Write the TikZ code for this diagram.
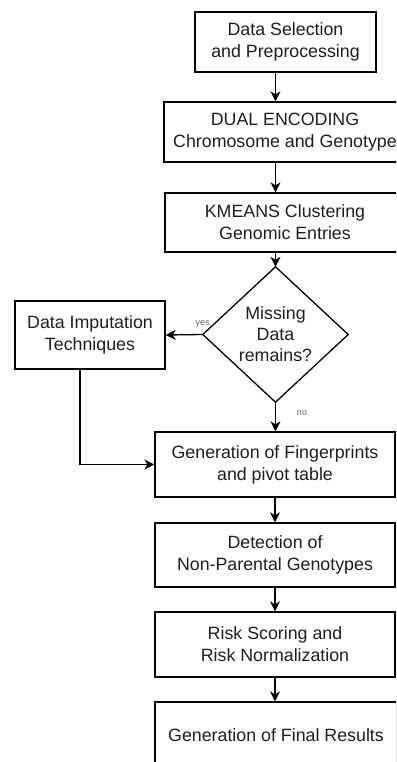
\documentclass[tikz,border=0pt]{standalone}
\usepackage{fontspec}
\setmainfont{Liberation Sans}
\usetikzlibrary{arrows.meta}
\definecolor{txt}{RGB}{30,30,30}
\definecolor{lblc}{RGB}{95,95,95}
\begin{document}
\begin{tikzpicture}[x=1pt,y=-1pt,
  box/.style={draw=black, line width=1.3pt, rectangle, inner sep=0pt, align=center, text=txt, font=\fontsize{17.8}{22}\selectfont},
  arr/.style={draw=black, line width=1.3pt, -{Stealth[length=10pt,width=10pt,inset=3pt]}},
  lbl/.style={font=\fontsize{9}{10}\selectfont, text=lblc, inner sep=0pt}
]
\useasboundingbox (0,0) rectangle (396,762);
\clip (0,0) rectangle (396,762);

\node[box, minimum width=181pt, minimum height=60pt] (b1) at (285.5,42) {Data Selection\\and Preprocessing};
\node[box, minimum width=242pt, minimum height=60pt] (b2) at (285,132) {DUAL ENCODING\\Chromosome and Genotype};
\node[box, minimum width=240pt, minimum height=59pt] (b3) at (285,222.5) {KMEANS Clustering\\Genomic Entries};
\node[minimum width=145pt, minimum height=135pt, inner sep=0pt, align=center, text=txt, font=\fontsize{17.8}{21}\selectfont] (dia) at (275.5,334.5) {Missing\\Data\\remains?};
\draw[line width=1.3pt] (dia.north) -- (dia.east) -- (dia.south) -- (dia.west) -- cycle;
\node[box, minimum width=150pt, minimum height=68pt] (imp) at (90,335) {Data Imputation\\Techniques};
\node[box, minimum width=240pt, minimum height=65pt] (fp) at (275,464.5) {Generation of Fingerprints\\and pivot table};
\node[box, minimum width=240pt, minimum height=64pt] (det) at (275,555) {Detection of\\Non-Parental Genotypes};
\node[box, minimum width=240pt, minimum height=65pt] (risk) at (275,644.5) {Risk Scoring and\\Risk Normalization};
\node[box, minimum width=242pt, minimum height=66pt] (fin) at (276,735) {Generation of Final Results};

\node[lbl] (yes) at (202.5,324.5) {yes};
\node[lbl] (no) at (302,413) {no};
\coordinate (turn) at (80,464.5);

\draw[arr] (b1.south -| dia.north) -- (b2.north -| dia.north);
\draw[arr] (b2.south -| dia.north) -- (b3.north -| dia.north);
\draw[arr] (b3.south -| dia.north) -- (dia.north);
\draw[arr] (dia.south) -- (fp.north -| dia.south);
\draw[arr] (dia.west) -- (imp.east);
\draw[arr] (imp.south -| turn) -- (turn) -- (fp.west);
\draw[arr] (fp.south) -- (det.north);
\draw[arr] (det.south) -- (risk.north);
\draw[arr] (risk.south) -- (fin.north -| risk.south);
\end{tikzpicture}
\end{document}
